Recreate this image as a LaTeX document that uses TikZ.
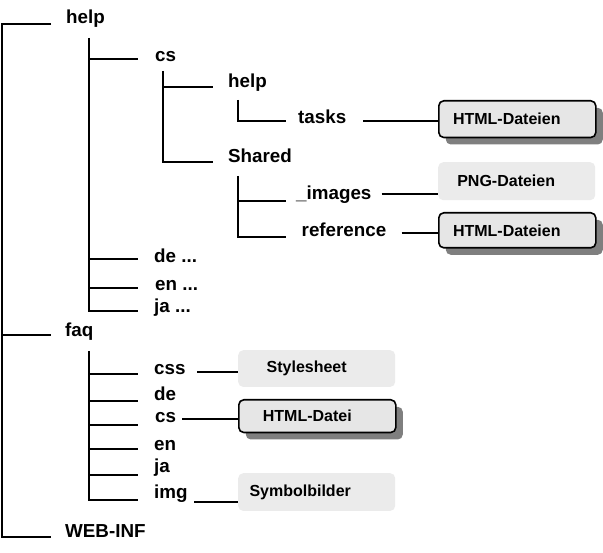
\documentclass[tikz,border=0pt]{standalone}
\usepackage{fontspec}
\setmainfont{Liberation Sans}
\usetikzlibrary{shadows}
\definecolor{boxfill}{HTML}{E6E6E6}
\definecolor{softfill}{HTML}{EBEBEB}
\definecolor{shadowgray}{HTML}{7F7F7F}
\begin{document}
\begin{tikzpicture}[x=1pt,y=-1pt,
  tree/.style={line width=2pt},
  link/.style={line width=2pt},
  lab/.style={anchor=base west,inner sep=0pt,font=\bfseries\fontsize{18.8}{21}\selectfont},
  boxtext/.style={font=\bfseries\fontsize{16}{19}\selectfont},
  filebox/.style={boxtext,anchor=north west,draw=black,line width=1.6pt,fill=boxfill,
    rounded corners=5pt,minimum width=157pt,inner sep=0pt,
    general shadow={fill=shadowgray,shadow xshift=7pt,shadow yshift=-7pt}},
  plainbox/.style={boxtext,anchor=north west,fill=softfill,rounded corners=5pt,
    minimum width=157pt,inner sep=0pt}]
\useasboundingbox (0,0) rectangle (603,553);

% ---- labels
\node[lab] (help)   at (66,24)   {help};
\node[lab] (cs)     at (155,62)  {cs};
\node[lab] (help2)  at (228,88)  {help};
\node[lab] (tasks)  at (298,123.5) {tasks};
\node[lab] (shared) at (228,163) {Shared};
\node[lab] (images) at (296,200) {\_images};
\node[lab] (ref)    at (301.5,237) {reference};
\node[lab] (de)     at (154,263) {de ...};
\node[lab] (en)     at (155,291) {en ...};
\node[lab] (ja)     at (154,313) {ja ...};
\node[lab] (faq)    at (65,337)  {faq};
\node[lab] (css)    at (154,375) {css};
\node[lab] (fde)    at (154,401) {de};
\node[lab] (fcs)    at (155,423) {cs};
\node[lab] (fen)    at (154,450) {en};
\node[lab] (fja)    at (154,473) {ja};
\node[lab] (img)    at (154,499) {img};
\node[lab] (webinf) at (65,537)  {WEB-INF};

% ---- boxes
\node[filebox,minimum height=36.7pt]  (b1) at (438,100) {HTML-Dateien\hspace*{21pt}};
\node[plainbox,minimum height=38pt]   (b2) at (438,162) {PNG-Dateien\hspace*{21pt}};
\node[filebox,minimum height=35pt]    (b3) at (438,212) {HTML-Dateien\hspace*{21pt}};
\node[plainbox,minimum height=36.7pt] (b4) at (238,350) {Stylesheet\hspace*{20pt}};
\node[filebox,minimum height=32.7pt]  (b5) at (238,399) {HTML-Datei\hspace*{20pt}};
\node[plainbox,minimum height=37.7pt] (b6) at (238,473) {Symbolbilder\hspace*{33pt}};

% ---- tree lines
\draw[tree] (51,24) -- (2,24) -- (2,537) -- (51,537);
\draw[tree] (2,335) -- (51,335);
\draw[tree] (89,38) -- (89,311) -- (137.5,311);
\foreach \y in {59,259,287.7} \draw[tree] (89,\y) -- (137.5,\y);
\draw[tree] (163,71) -- (163,162) -- (213,162);
\draw[tree] (163,87) -- (213,87);
\draw[tree] (238,100) -- (238,121) -- (286,121);
\draw[tree] (238,176) -- (238,237) -- (286,237);
\draw[tree] (238,201) -- (286,201);
\draw[tree] (89,351) -- (89,500) -- (137.5,500);
\foreach \y in {374,400.7,425,449,475} \draw[tree] (89,\y) -- (137.5,\y);

% ---- connectors to boxes
\draw[link] ([xshift=65.3pt,yshift=2.5pt]tasks.base west) -- ([yshift=2.5pt]tasks.base west -| b1.west);
\draw[link] ([xshift=85.7pt,yshift=6pt]images.base west) -- ([yshift=6pt]images.base west -| b2.west);
\draw[link] ([xshift=100pt,yshift=4pt]ref.base west) -- ([yshift=4pt]ref.base west -| b3.west);
\draw[link] ([xshift=43pt,yshift=3.3pt]css.base west) -- ([yshift=3.3pt]css.base west -| b4.west);
\draw[link] ([xshift=27pt,yshift=4pt]fcs.base west) -- ([yshift=4pt]fcs.base west -| b5.west);
\draw[link] ([xshift=40pt,yshift=-2.7pt]img.base west) -- ([yshift=-2.7pt]img.base west -| b6.west);
\end{tikzpicture}
\end{document}
